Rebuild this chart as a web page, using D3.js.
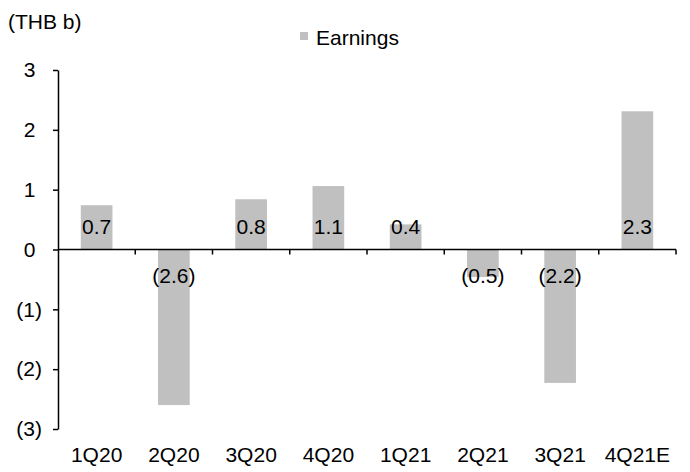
<!DOCTYPE html>
<html>
<head>
<meta charset="utf-8">
<script src="https://cdn.jsdelivr.net/npm/d3@7"></script>
<style>
  body { margin: 0; background: #fff; }
  text { font-family: "Liberation Sans", Arial, sans-serif; fill: #000; }
</style>
</head>
<body>
<svg id="SvgBars"></svg>
<script>
// ------ Data
var categories = ["1Q20", "2Q20", "3Q20", "4Q20", "1Q21", "2Q21", "3Q21", "4Q21E"];
var earnings = [0.74, -2.6, 0.84, 1.06, 0.42, -0.46, -2.23, 2.31];
var yTicks = [3, 2, 1, 0, -1, -2, -3];
var unitLabel = "(THB b)";
var seriesName = "Earnings";

// ------ Sizes
var width = 690, height = 472;
var plot = {left: 58, right: 676, top: 70, bottom: 429};
var fontSize = 21;
var barColor = "#c0c0c0";

// negative numbers shown in brackets
var fmt = function(v) {
	var s = Math.abs(v).toFixed(Number.isInteger(v) ? 0 : 1);
	return v < 0 ? "(" + s + ")" : s;
};

var svg = d3.select("#SvgBars")
	.attr("width", width)
	.attr("height", height);

// ------ Scales
var x = d3.scaleBand()
	.domain(categories)
	.range([plot.left, plot.right])
	.paddingInner(0.59)
	.paddingOuter(0.295);

var y = d3.scaleLinear()
	.domain([-3, 3])
	.range([plot.bottom, plot.top]);

// ------ Bars
svg.selectAll(".bar")
	.data(earnings)
  .enter().append("rect")
	.attr("class", "bar")
	.attr("x", (d, i) => x(categories[i]))
	.attr("width", x.bandwidth())
	.attr("y", d => y(Math.max(0, d)))
	.attr("height", d => Math.abs(y(d) - y(0)))
	.style("fill", barColor);

// ------ Y axis
var yAxis = d3.axisLeft(y)
	.tickValues(yTicks)
	.tickSize(5)
	.tickSizeOuter(0)
	.tickPadding(11)
	.tickFormat(fmt);

var gy = svg.append("g")
	.attr("transform", "translate(" + plot.left + ",0)")
	.call(yAxis);
gy.select(".domain").attr("stroke", "#000").attr("stroke-width", 1.5);
gy.selectAll(".tick line").attr("stroke", "#000").attr("stroke-width", 1.5);
gy.selectAll(".tick text")
	.style("font-family", "Liberation Sans, Arial, sans-serif")
	.style("font-size", fontSize + "px")
	.attr("fill", "#000")
	// positive labels leave room for the closing bracket
	.attr("dx", d => d >= 0 ? -6.5 : 0);

// ------ X axis at zero, ticks between categories
var step = x.step();
var bounds = d3.range(categories.length + 1).map(i => plot.left + i * step);
var gx = svg.append("g");
gx.append("line")
	.attr("x1", plot.left).attr("x2", plot.right)
	.attr("y1", y(0)).attr("y2", y(0))
	.attr("stroke", "#000").attr("stroke-width", 1.5);
gx.selectAll(".xtick")
	.data(bounds.slice(1))
  .enter().append("line")
	.attr("class", "xtick")
	.attr("x1", d => d).attr("x2", d => d)
	.attr("y1", y(0)).attr("y2", y(0) + 5)
	.attr("stroke", "#000").attr("stroke-width", 1.5);

// category labels under the plot
svg.selectAll(".cat")
	.data(categories)
  .enter().append("text")
	.attr("class", "cat")
	.attr("x", d => x(d) + x.bandwidth() / 2)
	.attr("y", plot.bottom + 33)
	.attr("text-anchor", "middle")
	.style("font-size", fontSize + "px")
	.text(d => d);

// ------ Value labels (just above / below zero line)
svg.selectAll(".val")
	.data(earnings)
  .enter().append("text")
	.attr("class", "val")
	.attr("x", (d, i) => x(categories[i]) + x.bandwidth() / 2)
	.attr("y", d => d >= 0 ? y(0) - 16 : y(0) + 33)
	.attr("text-anchor", "middle")
	.style("font-size", fontSize + "px")
	.text(fmt);

// ------ Unit label and legend
svg.append("text")
	.attr("x", 8)
	.attr("y", 29)
	.style("font-size", fontSize + "px")
	.text(unitLabel);

var legend = svg.append("g").attr("transform", "translate(300,32)");
legend.append("rect")
	.attr("width", 8).attr("height", 8)
	.style("fill", barColor);
legend.append("text")
	.attr("x", 16)
	.attr("y", 13)
	.style("font-size", fontSize + "px")
	.text(seriesName);
</script>
</body>
</html>
